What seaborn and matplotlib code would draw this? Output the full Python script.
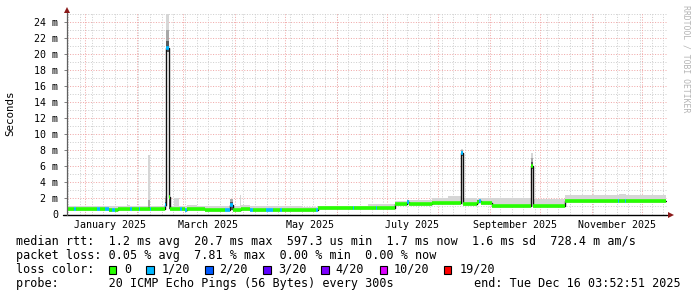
import numpy as np
import pandas as pd
import matplotlib
matplotlib.use("Agg")
import matplotlib.pyplot as plt
import seaborn as sns
from matplotlib.patches import Rectangle

# ---------------- data ----------------
seg_start = [
    "2024-12-21 03:52", "2024-12-25 08:00", "2024-12-26 12:00", "2024-12-31 00:00",
    "2025-01-04 00:00", "2025-01-08 00:00", "2025-01-10 06:00", "2025-01-13 06:00",
    "2025-01-15 06:00", "2025-01-17 00:00", "2025-01-19 00:00", "2025-01-21 00:00",
    "2025-01-26 00:00", "2025-01-28 06:00", "2025-01-29 00:00", "2025-02-02 06:00",
    "2025-02-03 00:00", "2025-02-07 12:00", "2025-02-08 16:00", "2025-02-09 16:00",
    "2025-02-17 18:00", "2025-02-18 19:00", "2025-02-20 04:00", "2025-02-20 22:00",
    "2025-02-23 14:00", "2025-02-26 14:00", "2025-02-27 00:00", "2025-02-28 00:00",
    "2025-03-02 00:00", "2025-03-03 00:00", "2025-03-05 00:00", "2025-03-09 00:00",
    "2025-03-14 00:00", "2025-03-17 00:00", "2025-03-25 19:00", "2025-03-28 19:00",
    "2025-03-30 14:00", "2025-04-03 19:00", "2025-04-04 14:00", "2025-04-10 00:00",
    "2025-04-11 19:00", "2025-04-19 14:00", "2025-04-23 19:00", "2025-04-28 00:00",
    "2025-04-29 00:00", "2025-05-11 19:00", "2025-05-19 14:00", "2025-05-20 19:00",
    "2025-06-10 19:00", "2025-06-11 14:00", "2025-06-19 19:00", "2025-06-24 14:00",
    "2025-06-25 10:00", "2025-07-05 19:00", "2025-07-13 00:00", "2025-07-14 12:00",
    "2025-07-28 10:00", "2025-08-07 00:00", "2025-08-14 19:00", "2025-08-16 00:00",
    "2025-08-24 10:00", "2025-08-25 05:00", "2025-08-26 12:00", "2025-09-02 10:00",
    "2025-09-25 19:00", "2025-09-27 00:00", "2025-10-16 05:00", "2025-11-16 14:00",
    "2025-11-17 10:00", "2025-11-20 19:00", "2025-11-21 14:00",
]
data_end = "2025-12-15 14:00"

# median round trip time (ms)
rtt_median = [
    0.72, 0.66, 0.72, 0.72, 0.72, 0.68, 0.70, 0.64,
    0.62, 0.62, 0.62, 0.72, 0.72, 0.68, 0.72, 0.68,
    0.72, 0.72, 0.68, 0.72, 1.20, 20.7, 2.20, 0.72,
    0.72, 0.72, 0.68, 0.72, 0.62, 0.72, 0.72, 0.72,
    0.56, 0.62, 0.52, 1.20, 0.62, 0.62, 0.65, 0.50,
    0.50, 0.50, 0.50, 0.50, 0.50, 0.62, 0.62, 0.78,
    0.78, 0.78, 0.85, 0.85, 0.85, 1.28, 1.55, 1.28,
    1.45, 1.45, 7.65, 1.35, 1.60, 1.70, 1.40, 1.10,
    6.05, 1.10, 1.62, 1.62, 1.62, 1.62, 1.62,
]
# index into loss colour table
loss_idx = [
    0, 1, 0, 0, 0, 1, 0, 1,
    0, 1, 0, 0, 0, 1, 0, 1,
    0, 0, 1, 0, 1, 1, 0, 0,
    0, 0, 1, 0, 1, 0, 0, 0,
    0, 0, 1, 1, 0, 0, 0, 1,
    0, 1, 0, 1, 0, 0, 1, 0,
    1, 0, 0, 1, 0, 0, 1, 0,
    0, 0, 1, 0, 0, 1, 0, 0,
    0, 0, 0, 1, 0, 1, 0,
]
# smoke: min and max ping (ms)
smoke_min = [
    0.62, 0.56, 0.62, 0.62, 0.62, 0.58, 0.60, 0.54,
    0.52, 0.52, 0.52, 0.62, 0.62, 0.58, 0.62, 0.58,
    0.62, 0.62, 0.58, 0.62, 1.10, 20.2, 0.70, 0.62,
    0.62, 0.62, 0.58, 0.62, 0.52, 0.62, 0.62, 0.62,
    0.46, 0.52, 0.42, 0.60, 0.52, 0.52, 0.55, 0.40,
    0.40, 0.40, 0.40, 0.40, 0.40, 0.52, 0.52, 0.68,
    0.68, 0.68, 0.75, 0.75, 0.75, 1.18, 1.45, 1.18,
    1.35, 1.35, 7.30, 1.25, 1.50, 1.60, 1.30, 1.00,
    5.70, 1.00, 1.52, 1.52, 1.52, 1.52, 1.52,
]
smoke_max = [
    1.05, 1.05, 1.00, 1.12, 1.02, 1.02, 1.05, 1.05,
    1.00, 1.00, 1.05, 1.05, 1.20, 1.10, 1.05, 1.05,
    1.05, 7.40, 1.05, 1.05, 2.30, 25.0, 7.50, 1.10,
    2.00, 1.10, 1.05, 1.05, 1.00, 1.20, 1.20, 1.08,
    1.05, 1.00, 1.00, 1.90, 1.10, 2.40, 1.20, 1.05,
    1.00, 1.05, 1.10, 1.00, 1.00, 0.95, 0.95, 1.05,
    1.05, 1.10, 1.30, 1.30, 1.30, 1.70, 1.80, 1.75,
    2.05, 2.30, 8.20, 2.00, 1.90, 2.10, 2.10, 2.00,
    7.65, 1.95, 2.45, 2.45, 2.50, 2.50, 2.45,
]
# denser (darker) smoke around the outliers
dense_start = ["2025-02-07 12:00", "2025-02-17 18:00", "2025-02-18 19:00", "2025-02-20 04:00",
               "2025-03-28 19:00", "2025-07-13 00:00", "2025-08-14 19:00", "2025-08-24 10:00",
               "2025-09-25 19:00"]
dense_end = ["2025-02-08 16:00", "2025-02-18 19:00", "2025-02-20 04:00", "2025-02-20 22:00",
             "2025-03-30 14:00", "2025-07-14 12:00", "2025-08-16 00:00", "2025-08-25 05:00",
             "2025-09-27 00:00"]
dense_lo = [0.62, 1.10, 20.2, 0.70, 0.60, 1.45, 7.30, 1.50, 5.70]
dense_mid = [1.80, 2.00, 23.0, 4.60, 1.90, 1.80, 8.00, 1.85, 7.00]
dense_core = [0.90, 1.50, 21.6, 3.00, 1.60, 1.70, 7.80, 1.75, 6.50]

loss_colors = ["#26ff00", "#00b8ff", "#0059ff", "#5e00ff", "#7e00ff", "#dd00ff", "#ff0000"]
loss_labels = ["0", "1/20", "2/20", "3/20", "4/20", "10/20", "19/20"]

y_ticks = list(range(0, 25, 2))
month_labels = ["January 2025", "March 2025", "May 2025", "July 2025",
                "September 2025", "November 2025"]
month_label_dates = ["2025-01-16", "2025-03-16", "2025-05-16", "2025-07-16",
                     "2025-09-16", "2025-11-16"]

t_begin = pd.Timestamp("2024-12-21 03:52:51")
t_end = pd.Timestamp("2025-12-16 03:52:51")

# ---------------- figure ----------------
sns.set_theme(style="white")
plt.rcParams["font.family"] = ["DejaVu Sans Mono"]

W, H = 697, 297
fig = plt.figure(figsize=(W / 100, H / 100), dpi=100)
fig.patch.set_facecolor("white")
L, R, T, B = 67, 667, 13, 214.5
ax = fig.add_axes([L / W, 1 - B / H, (R - L) / W, (B - T) / H])
ax.set_facecolor("white")
for s in ax.spines.values():
    s.set_visible(False)

starts = pd.to_datetime(seg_start)
ends = pd.to_datetime(seg_start[1:] + [data_end])
x_edges = pd.to_datetime(seg_start + [data_end])

ax.set_xlim(t_begin, t_end)
ax.set_ylim(0, 25.1)

# grid
weeks = pd.date_range("2024-12-22", t_end, freq="W-SUN")
months = pd.date_range("2025-01-01", t_end, freq="MS")
for wk in weeks:
    ax.axvline(wk, color="#cfcfcf", lw=0.72, ls=(0, (1, 1.6)), zorder=0)
for v in range(1, 26, 2):
    ax.axhline(v, color="#cfcfcf", lw=0.72, ls=(0, (1, 1.6)), zorder=0)
for m in months:
    ax.axvline(m, color="#f0a8a8", lw=0.72, ls=(0, (1, 1.6)), zorder=0.5)
for v in y_ticks[1:]:
    ax.axhline(v, color="#f0a8a8", lw=0.72, ls=(0, (1, 1.6)), zorder=0.5)

# smoke (light outer)
ax.fill_between(x_edges, smoke_min + [smoke_min[-1]], smoke_max + [smoke_max[-1]],
                step="post", color="#d6d6d6", lw=0, zorder=1)
# denser smoke layers
ds, de = pd.to_datetime(dense_start), pd.to_datetime(dense_end)
for a, b, lo, mid, core in zip(ds, de, dense_lo, dense_mid, dense_core):
    ax.fill_between([a, b], [lo, lo], [mid, mid], color="#a8a8a8", lw=0, zorder=1.2)
    ax.fill_between([a, b], [lo, lo], [core, core], color="#5a5a5a", lw=0, zorder=1.4)

# median line (black) via seaborn
df = pd.DataFrame({"t": x_edges, "rtt": rtt_median + [rtt_median[-1]]})
sns.lineplot(data=df, x="t", y="rtt", drawstyle="steps-post", color="#101010",
             lw=1.0, ax=ax, estimator=None, zorder=2)

# loss-coloured median band
ax.hlines(rtt_median, starts, ends, colors=[loss_colors[i] for i in loss_idx],
          lw=2.6, zorder=3)

# axes lines and arrows
ax.plot([-0.007, 1.0], [0, 0], transform=ax.transAxes, color="#000000", lw=1.0,
        clip_on=False, zorder=5)
ax.plot([0, 0], [0, 1.01], transform=ax.transAxes, color="#606060", lw=0.9,
        clip_on=False, zorder=5)
ax.plot([1.006], [0], transform=ax.transAxes, marker=">", ms=4.5, color="#8b1a1a",
        clip_on=False, zorder=6, mew=0)
ax.plot([0], [1.017], transform=ax.transAxes, marker="^", ms=4.5, color="#8b1a1a",
        clip_on=False, zorder=6, mew=0)

# ticks
ax.set_yticks(y_ticks)
ax.set_yticklabels(["0" if v == 0 else f"{v} m" for v in y_ticks])
ax.set_xticks(pd.to_datetime(month_label_dates))
ax.set_xticklabels(month_labels)
ax.tick_params(axis="y", length=2, width=0.7, color="#808080", pad=4.5,
               labelsize=7.2, left=True, labelcolor="#000000")
ax.tick_params(axis="x", length=0, pad=3.6, labelsize=7.2, labelcolor="#000000")
ax.set_xlabel("")
ax.set_ylabel("")

def fx(x):
    return x / W

def fy(y):
    return 1 - y / H

fig.text(fx(10), fy(113), "Seconds", rotation=90, ha="center", va="center",
         fontsize=7.8, color="#000000")
fig.text(fx(686), fy(5), "RRDTOOL / TOBI OETIKER", rotation=-90, ha="center",
         va="top", fontsize=5.9, color="#b4b4b4")

fs = 8.5
fig.text(fx(16), fy(245),
         "median rtt:  1.2 ms avg  20.7 ms max  597.3 us min  1.7 ms now  1.6 ms sd  728.4 m am/s",
         fontsize=fs, va="baseline", ha="left", color="#000000")
fig.text(fx(16), fy(259), "packet loss: 0.05 % avg  7.81 % max  0.00 % min  0.00 % now",
         fontsize=fs, va="baseline", ha="left", color="#000000")
fig.text(fx(16), fy(273), "loss color:", fontsize=fs, va="baseline", ha="left",
         color="#000000")
fig.text(fx(16), fy(287), "probe:       20 ICMP Echo Pings (56 Bytes) every 300s",
         fontsize=fs, va="baseline", ha="left", color="#000000")
fig.text(fx(681), fy(287), "end: Tue Dec 16 03:52:51 2025", fontsize=fs,
         va="baseline", ha="right", color="#000000")

box_x = [108.5, 146, 205, 263, 321, 379.5, 444]
text_x = [124, 161.6, 219.6, 277.7, 335.7, 393.8, 459.8]
for bx, tx, c, lab in zip(box_x, text_x, loss_colors, loss_labels):
    fig.add_artist(Rectangle((fx(bx), fy(273.5)), 7.5 / W, 8 / H, transform=fig.transFigure,
                             facecolor=c, edgecolor="#000000", lw=0.8))
    fig.text(fx(tx), fy(273), lab, fontsize=fs, va="baseline", ha="left", color="#000000")

fig.savefig("out.png", dpi=100, facecolor="white")
